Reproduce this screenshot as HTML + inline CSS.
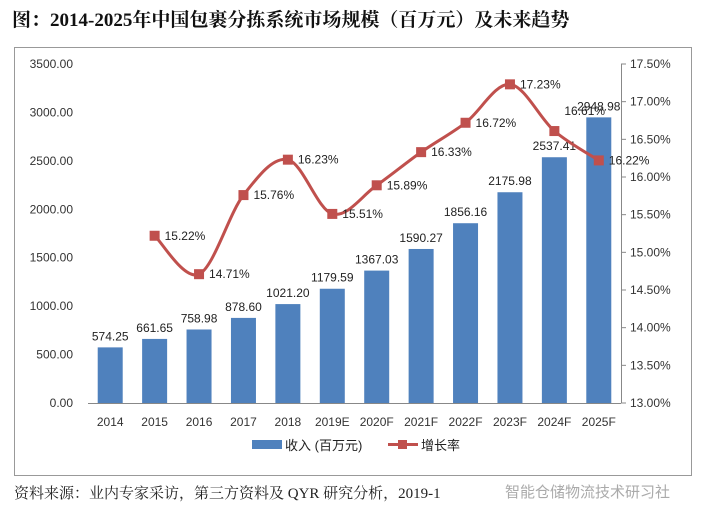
<!DOCTYPE html>
<html><head><meta charset="utf-8"><style>
body{margin:0;background:#fff;width:710px;height:521px;overflow:hidden;font-family:"Liberation Sans","Noto Sans CJK SC",sans-serif}
</style></head><body>
<svg width="710" height="521" font-family="Liberation Sans, Noto Sans CJK SC, sans-serif">
<text x="12" y="26" font-size="19" font-weight="bold" font-family="Liberation Serif, Noto Serif CJK SC, serif" fill="#111">图：2014-2025年中国包裹分拣系统市场规模（百万元）及未来趋势</text>
<rect x="14.5" y="47.5" width="677" height="428" fill="#fff" stroke="#999"/>
<g id="g"></g>
<text x="14" y="498" font-size="15" font-family="Liberation Serif, Noto Serif CJK SC, serif" fill="#222">资料来源：业内专家采访，第三方资料及 QYR 研究分析，2019-1</text>
<text x="505" y="497" font-size="15" fill="#aaa">智能仓储物流技术研习社</text>
</svg>
<script>
const categories=["2014","2015","2016","2017","2018","2019E","2020F","2021F","2022F","2023F","2024F","2025F"];
const revenue=[574.25,661.65,758.98,878.60,1021.20,1179.59,1367.03,1590.27,1856.16,2175.98,2537.41,2948.98];
const growth=[null,15.22,14.71,15.76,16.23,15.51,15.89,16.33,16.72,17.23,16.61,16.22];
const leftTicks=[0,500,1000,1500,2000,2500,3000,3500];
const rightTicks=[13,13.5,14,14.5,15,15.5,16,16.5,17,17.5];
const NS="http://www.w3.org/2000/svg";
const g=document.getElementById('g');
const x0=88,x1=621,yT=64,yB=403;
const step=(x1-x0)/categories.length;
const xc=i=>x0+step*(i+0.5);
const yL=v=>yB-(v/3500)*(yB-yT);
const yR=v=>yB-((v-13)/4.5)*(yB-yT);
function mk(t,a,txt){const e=document.createElementNS(NS,t);for(const k in a)e.setAttribute(k,a[k]);if(txt!=null)e.textContent=txt;g.appendChild(e);return e;}
leftTicks.forEach(v=>{const e=mk('text',{x:73,y:yL(v)+4,'font-size':12,fill:'#333','text-anchor':'end'},v.toFixed(2));

});
rightTicks.forEach(v=>{const y=yR(v);const l=mk('line',{x1:x1,x2:x1+5,y1:y,y2:y,stroke:'#888'});


const e=mk('text',{x:630,y:y+4,'font-size':12,fill:'#333'},v.toFixed(2)+'%');

});
const ax=mk('line',{x1:x1+0.5,x2:x1+0.5,y1:yT,y2:yB,stroke:'#888'});


const bx=mk('line',{x1:x0,x2:x1,y1:yB+0.5,y2:yB+0.5,stroke:'#888'});


categories.forEach((c,i)=>{const b=mk('rect',{x:xc(i)-12.5,y:yL(revenue[i]),width:25,height:yB-yL(revenue[i]),fill:'#4f81bd'});


const t=mk('text',{x:xc(i),y:yL(revenue[i])-7,'font-size':12,fill:'#222','text-anchor':'middle'},revenue[i].toFixed(2));


const xl=mk('text',{x:xc(i),y:426,'font-size':12,fill:'#333','text-anchor':'middle'},c);

});
const pts=[];growth.forEach((v,i)=>{if(v!=null)pts.push([xc(i),yR(v),v]);});
let d='M'+pts[0][0]+','+pts[0][1];
for(let i=0;i<pts.length-1;i++){const p0=pts[Math.max(0,i-1)],p1=pts[i],p2=pts[i+1],p3=pts[Math.min(pts.length-1,i+2)];
const c1=[p1[0]+(p2[0]-p0[0])/6,p1[1]+(p2[1]-p0[1])/6],c2=[p2[0]-(p3[0]-p1[0])/6,p2[1]-(p3[1]-p1[1])/6];
d+=` C${c1[0]},${c1[1]} ${c2[0]},${c2[1]} ${p2[0]},${p2[1]}`;}
const ln=mk('path',{d:d,fill:'none',stroke:'#c0504d','stroke-width':3});


pts.forEach((p,k)=>{const m=mk('rect',{x:p[0]-5,y:p[1]-5,width:10,height:10,fill:'#c0504d'});


const up=(k===pts.length-2)?-16:4;
const t=mk('text',{x:p[0]+10,y:p[1]+up,'font-size':12,fill:'#222'},p[2].toFixed(2)+'%');

});
const lr=mk('rect',{x:252,y:440,width:30,height:9,fill:'#4f81bd'});


const lt=mk('text',{x:285,y:450,'font-size':13,fill:'#222'},'收入 (百万元)');


const ll=mk('line',{x1:388,x2:418,y1:444.5,y2:444.5,stroke:'#c0504d','stroke-width':3});


const lm=mk('rect',{x:398,y:440,width:9,height:9,fill:'#c0504d'});


const lg=mk('text',{x:421,y:450,'font-size':13,fill:'#222'},'增长率');


</script>
</body></html>
